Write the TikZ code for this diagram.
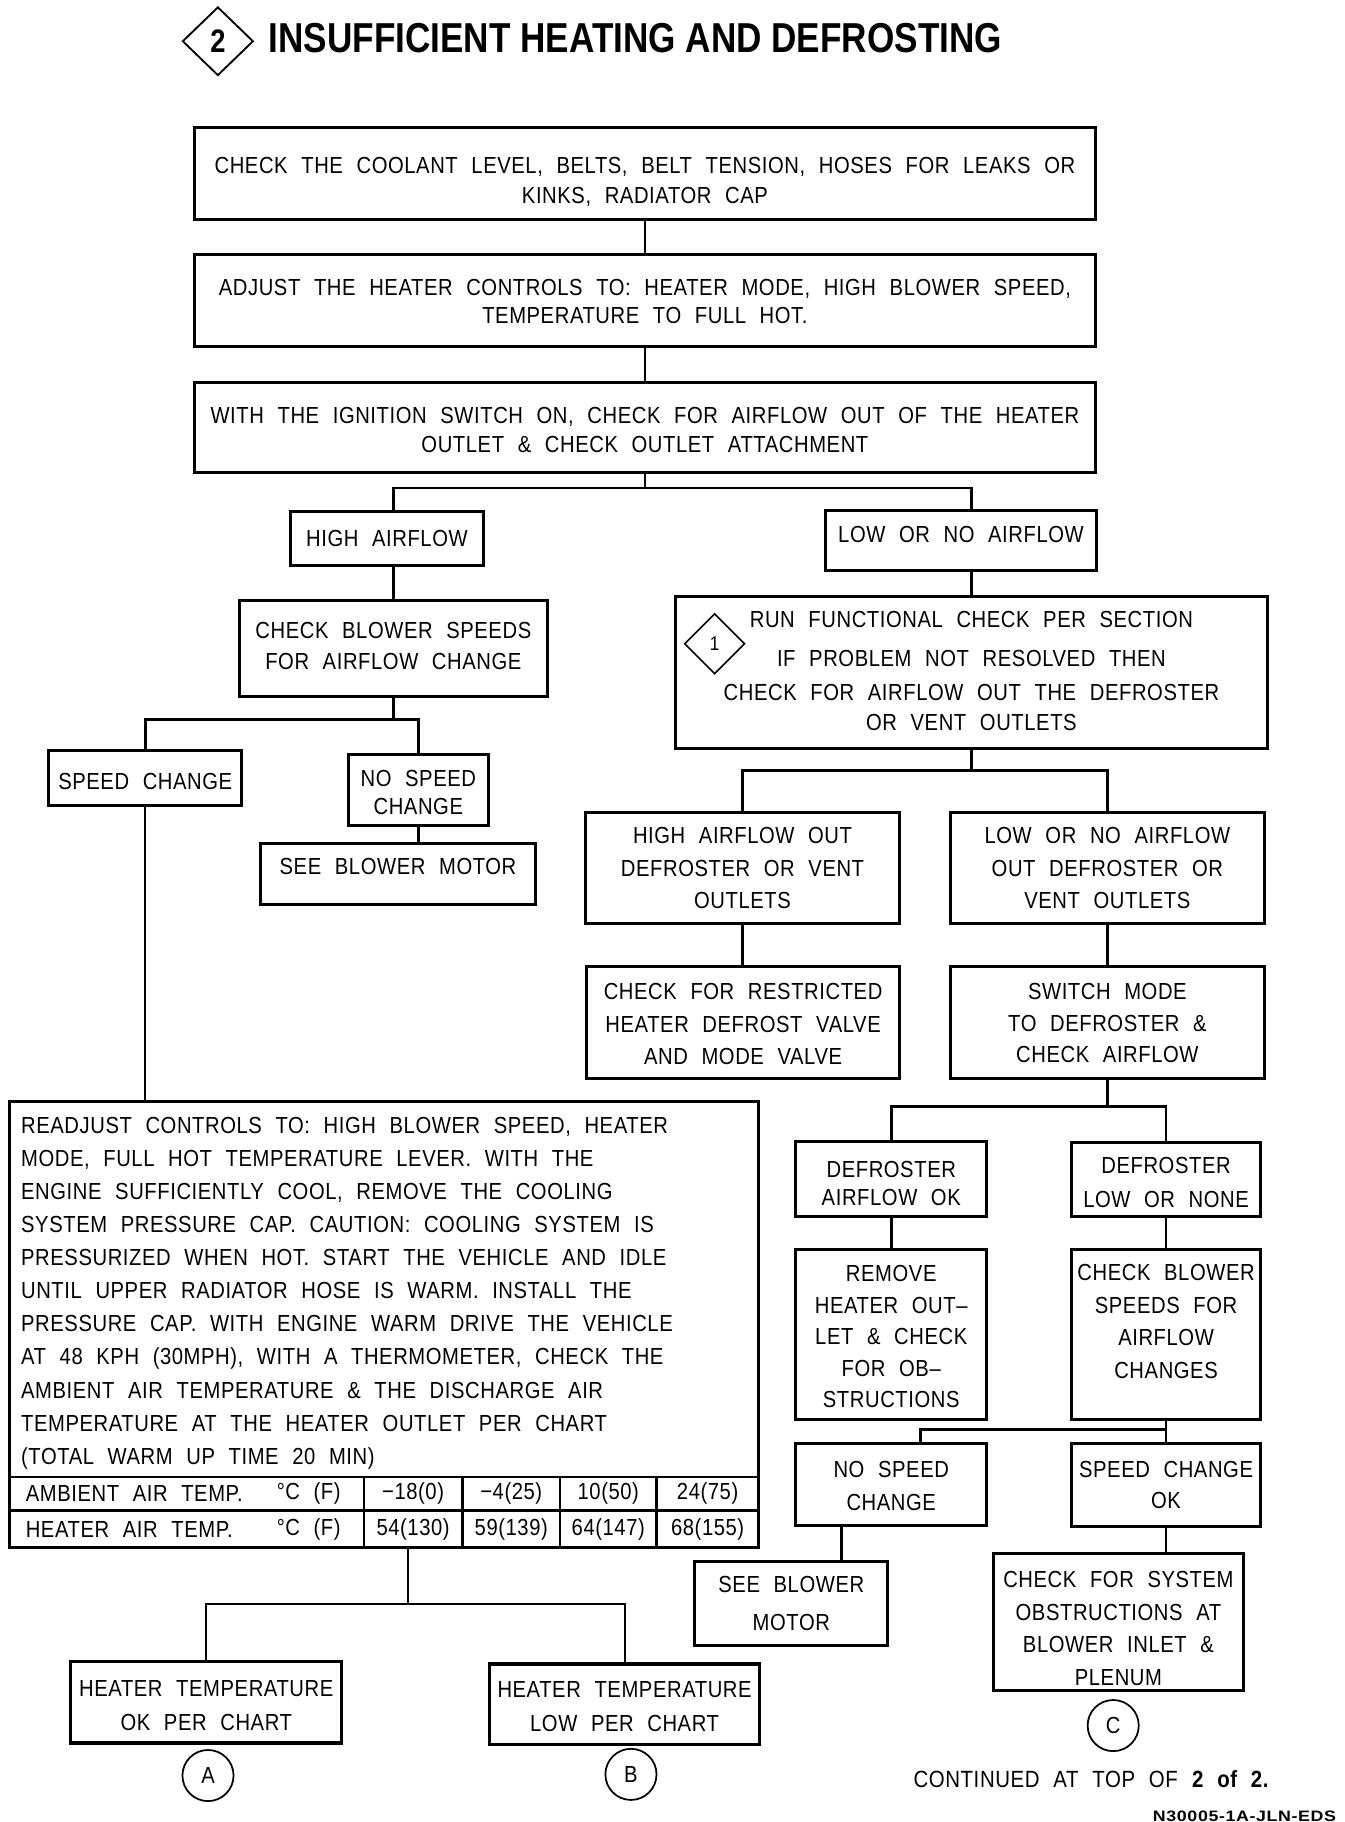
\documentclass[tikz,border=0pt]{standalone}
\usepackage{fontspec}
\setmainfont{Liberation Sans}[FakeStretch=0.87,WordSpace=2.2,LetterSpace=2.5]
\newfontfamily\titlefont{Liberation Sans}[FakeStretch=0.84]
\newfontfamily\codefont{Liberation Sans}[FakeStretch=1.18,LetterSpace=4]
\usepackage{tikz}
\usetikzlibrary{positioning, fit, shapes.geometric}

% box from two corners, text hung from the middle of its first line
\newcommand\flowbox[5]{%
    \node[box, fit={#2 #3}] (#1) {};
    \node[boxtext, anchor=north, yshift=6.9pt] (#1t) at (#1.north |- 0,#4) {#5};}

\begin{document}
\begin{tikzpicture}[x=1pt, y=-1pt,
        box/.style={draw, line width=2.6pt, inner sep=0pt},
        boxtext/.style={inner sep=0pt, align=center, font=\fontsize{20}{27}\selectfont},
        link/.style={line width=2.4pt},
        thinlink/.style={line width=1.8pt},
        txt/.style={inner sep=0pt, font=\fontsize{20}{28.5}\selectfont},
        tag/.style={draw, circle, line width=1.5pt, minimum size=44pt, inner sep=0pt, font=\fontsize{20}{24}\selectfont}]
    \useasboundingbox (0,0) rectangle (1157,1568);

    \node[draw, diamond, line width=1.6pt, minimum width=61pt, minimum height=59pt, inner sep=0pt,
          font=\titlefont\bfseries\fontsize{28}{28}\selectfont] (num2) at (187.5,35.5) {2};
    \node[anchor=west, inner sep=0pt, font=\titlefont\bfseries\fontsize{36}{36}\selectfont] (title) at (231,33)
        {INSUFFICIENT HEATING AND DEFROSTING};

    \flowbox{b1}{(167,110)}{(943,189)}{142}{CHECK THE COOLANT LEVEL, BELTS, BELT TENSION, HOSES FOR LEAKS OR\\[-1pt]KINKS, RADIATOR CAP}
    \flowbox{b2}{(167,219)}{(943,298)}{247}{ADJUST THE HEATER CONTROLS TO: HEATER MODE, HIGH BLOWER SPEED,\\[-3pt]TEMPERATURE TO FULL HOT.}
    \flowbox{b3}{(167,329)}{(943,407)}{357}{WITH THE IGNITION SWITCH ON, CHECK FOR AIRFLOW OUT OF THE HEATER\\[-2pt]OUTLET \& CHECK OUTLET ATTACHMENT}

    \flowbox{hi}{(250,440)}{(416,487)}{463}{HIGH AIRFLOW}
    \flowbox{lo}{(710,439)}{(944,491)}{460}{LOW OR NO AIRFLOW}
    \flowbox{cbl}{(206,517)}{(471,599)}{542}{CHECK BLOWER SPEEDS\\FOR AIRFLOW CHANGE}
    \flowbox{sc}{(42,646)}{(208,693)}{672}{SPEED CHANGE}
    \flowbox{nsc}{(300,649)}{(420,710)}{670}{NO SPEED\\[-3pt]CHANGE}
    \flowbox{sbm}{(224,726)}{(461,778)}{745}{SEE BLOWER MOTOR}

    \flowbox{run}{(581,513)}{(1091,644)}{533}{RUN FUNCTIONAL CHECK PER SECTION\\[6pt]IF PROBLEM NOT RESOLVED THEN\\[3pt]CHECK FOR AIRFLOW OUT THE DEFROSTER\\[-2pt]OR VENT OUTLETS}
    \node[draw, diamond, line width=1.4pt, minimum width=52pt, minimum height=52pt, inner sep=0pt,
          font=\fontsize{17}{17}\selectfont] (num1) at (615,554) {1};
    \flowbox{hao}{(504,699)}{(774,795)}{719}{HIGH AIRFLOW OUT\\[1pt]DEFROSTER OR VENT\\[1pt]OUTLETS}
    \flowbox{lao}{(818,699)}{(1088,795)}{719}{LOW OR NO AIRFLOW\\[1pt]OUT DEFROSTER OR\\[1pt]VENT OUTLETS}
    \flowbox{cfr}{(505,832)}{(774,928)}{853}{CHECK FOR RESTRICTED\\[1pt]HEATER DEFROST VALVE\\[1pt]AND MODE VALVE}
    \flowbox{sw}{(818,832)}{(1088,928)}{853}{SWITCH MODE\\TO DEFROSTER \&\\CHECK AIRFLOW}

    \flowbox{dok}{(685,982)}{(849,1047)}{1006}{DEFROSTER\\[-3pt]AIRFLOW OK}
    \flowbox{dlo}{(922,983)}{(1085,1047)}{1003}{DEFROSTER\\[2pt]LOW OR NONE}
    \flowbox{rem}{(685,1075)}{(849,1222)}{1096}{REMOVE\\HEATER OUT–\\LET \& CHECK\\FOR OB–\\STRUCTIONS}
    \flowbox{cbr}{(922,1075)}{(1085,1222)}{1095}{CHECK BLOWER\\[1pt]SPEEDS FOR\\[1pt]AIRFLOW\\[1pt]CHANGES}
    \flowbox{nsc2}{(685,1242)}{(849,1313)}{1264}{NO SPEED\\[2pt]CHANGE}
    \flowbox{scok}{(922,1242)}{(1085,1314)}{1264}{SPEED CHANGE\\OK}
    \flowbox{sbm2}{(598,1344)}{(764,1416)}{1363}{SEE BLOWER\\[6pt]MOTOR}
    \flowbox{cfs}{(855,1337)}{(1070,1455)}{1359}{CHECK FOR SYSTEM\\[1pt]OBSTRUCTIONS AT\\[1pt]BLOWER INLET \&\\[1pt]PLENUM}

    \node[box, fit={(8,948) (653,1332)}] (rd) {};
    \node[txt, anchor=north west, align=left] (rdtxt) at (18,961) {READJUST CONTROLS TO: HIGH BLOWER SPEED, HEATER\\
        MODE, FULL HOT TEMPERATURE LEVER. WITH THE\\
        ENGINE SUFFICIENTLY COOL, REMOVE THE COOLING\\
        SYSTEM PRESSURE CAP. CAUTION: COOLING SYSTEM IS\\
        PRESSURIZED WHEN HOT. START THE VEHICLE AND IDLE\\
        UNTIL UPPER RADIATOR HOSE IS WARM. INSTALL THE\\
        PRESSURE CAP. WITH ENGINE WARM DRIVE THE VEHICLE\\
        AT 48 KPH (30MPH), WITH A THERMOMETER, CHECK THE\\
        AMBIENT AIR TEMPERATURE \& THE DISCHARGE AIR\\
        TEMPERATURE AT THE HEATER OUTLET PER CHART\\
        (TOTAL WARM UP TIME 20 MIN)};
    \draw[line width=2.2pt] (8,1271) -- (653,1271);
    \draw[line width=2.2pt] (8,1300) -- (653,1300);
    \foreach \x in {313,398,482,565}
        \draw[line width=1.8pt] (\x,1271) -- (\x,1332);
    \node[txt, anchor=west] (ambl) at (22,1285.5) {AMBIENT AIR TEMP.};
    \node[txt, anchor=west] (htrl) at (22,1316) {HEATER AIR TEMP.};
    \node[txt, anchor=west] (ambu) at (238,1285.5) {°C (F)};
    \node[txt, anchor=west] (htru) at (238,1316) {°C (F)};
    \foreach \x/\a/\b [count=\i] in {355.5/{−18(0)}/{54(130)}, 440/{−4(25)}/{59(139)}, 523.5/{10(50)}/{64(147)}, 609/{24(75)}/{68(155)}} {
        \node[txt] (amb\i) at (\x,1285.5) {\a};
        \node[txt] (htr\i) at (\x,1316) {\b};
    }

    \flowbox{hok}{(61,1430)}{(294,1500)}{1453}{HEATER TEMPERATURE\\[2pt]OK PER CHART}
    \flowbox{hlo}{(421,1432)}{(654,1501)}{1454}{HEATER TEMPERATURE\\[2pt]LOW PER CHART}
    \node[tag] (ta) at (179,1528) {A};
    \node[tag] (tb) at (543,1527) {B};
    \node[tag] (tc) at (958,1485) {C};

    \node[txt, anchor=west, font=\fontsize{20.2}{21}\selectfont] (cont) at (786,1531) {CONTINUED AT TOP OF \textbf{2 of 2.}};
    \node[txt, font=\codefont\bfseries\fontsize{13}{13}\selectfont] (code) at (1071,1563) {N30005-1A-JLN-EDS};

    \coordinate (j1) at (555,420);
    \coordinate (j2) at (338.5,619);
    \coordinate (j3) at (836,663);
    \coordinate (j4) at (953,952);
    \coordinate (j5) at (1003.5,1230);
    \coordinate (j6) at (792,1230);
    \coordinate (j7) at (724,0);
    \coordinate (j8) at (351,1380);

    \draw[link] (b1) -- (b2);
    \draw[link] (b2) -- (b3);
    \draw[link] (b3.south) -- (j1);
    \draw[link] (hi.north -| cbl.north) |- (j1) -| (lo.north -| run.north);
    \draw[link] (hi.south -| cbl.north) -- (cbl.north);
    \draw[link] (lo.south -| run.north) -- (run.north);
    \draw[link] (cbl.south) -- (j2);
    \draw[link] (sc.north) |- (j2) -| (nsc.north);
    \draw[link] (nsc.south) -- (nsc.south |- sbm.north);
    \draw[thinlink] (sc.south) -- (sc.south |- rd.north);
    \draw[link] (run.south) -- (j3);
    \draw[link] (hao.north) |- (j3) -| (lao.north);
    \draw[link] (hao.south) -- (hao.south |- cfr.north);
    \draw[link] (lao.south) -- (sw.north);
    \draw[link] (sw.south) -- (j4);
    \draw[link] (dok.north) |- (j4) -| (dlo.north);
    \draw[link] (dok.south) -- (rem.north);
    \draw[link] (dlo.south) -- (cbr.north);
    \draw[link] (cbr.south) -- (scok.north);
    \draw[link] (j5) -- (j6) -- (j6 |- nsc2.north);
    \draw[link] (nsc2.south -| j7) -- (sbm2.north -| j7);
    \draw[link] (scok.south) -- (scok.south |- cfs.north);
    \draw[thinlink] (rd.south -| j8) -- (j8);
    \draw[thinlink] (hok.north) |- (j8) -| (hlo.north);
\end{tikzpicture}
\end{document}
